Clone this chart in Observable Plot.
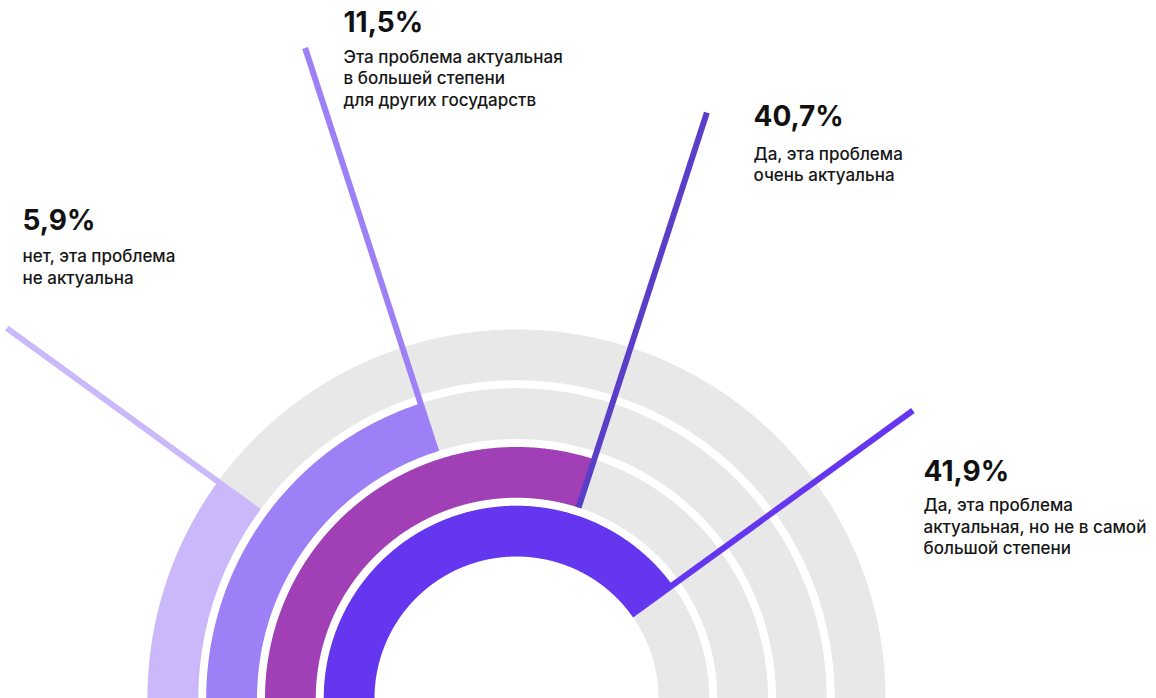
<!DOCTYPE html>
<html>
<head>
<meta charset="utf-8">
<script src="https://cdn.jsdelivr.net/npm/d3@7"></script>
<script src="https://cdn.jsdelivr.net/npm/@observablehq/plot@0.6"></script>
<style>
  html, body { margin: 0; padding: 0; background: #ffffff; }
  #chart { width: 1156px; height: 698px; overflow: hidden; }
</style>
</head>
<body>
<div id="chart"></div>
<script>
// ---- data ----
const categories = [
  "Да, эта проблема актуальная, но не в самой большой степени",
  "Да, эта проблема очень актуальна",
  "Эта проблема актуальная в большей степени для других государств",
  "нет, эта проблема не актуальна"
];
const values = [41.9, 40.7, 11.5, 5.9];
const labelLines = [
  ["Да, эта проблема", "актуальная, но не в самой", "большой степени"],
  ["Да, эта проблема", "очень актуальна"],
  ["Эта проблема актуальная", "в большей степени", "для других государств"],
  ["нет, эта проблема", "не актуальна"]
];

// ---- styles / layout (not data) ----
const barColors = ["#6536f0", "#a03fb6", "#9d80f6", "#cab8fa"];
const leaderColors = ["#6536f0", "#5b3ec8", "#9d80f6", "#cab8fa"];
const trackColor = "#e8e8e8";
const leaderRadius = [490, 616, 684, 630];
// label offsets from the leader end, in pixels (dx right, dy down)
const labelDx = [10.6, 46.6, 38.4, 15.7];
const numberDy = [70.5, 13.8, -15.8, -97.7];
const textDy = [144, 68.5, 58, -44.2];

const rows = categories.map((c, i) => ({category: c, value: values[i], i}));
const ascending = d3.sort(rows, d => d.value).map(d => d.category);

// angular position: ordinal (ranked) sweep in degrees, measured from the left
const angle = Plot.scale({x: {type: "point", domain: ascending, range: [0, 180], padding: 1}});
// radial bands: innermost = largest value
const radius = Plot.scale({x: {type: "band", domain: ascending.slice().reverse(), range: [142, 369], paddingInner: 8 / 58.75, paddingOuter: 0}});
const bw = radius.bandwidth;

function polar(r, a) {
  const t = a * Math.PI / 180;
  return [-r * Math.cos(t), r * Math.sin(t)];
}
function arcPoints(r0, r1, a0, a1, key) {
  const n = Math.max(2, Math.ceil((a1 - a0) / 0.25));
  const pts = [];
  for (let k = 0; k <= n; k++) { const [x, y] = polar(r1, a0 + (a1 - a0) * k / n); pts.push({x, y, key}); }
  for (let k = n; k >= 0; k--) { const [x, y] = polar(r0, a0 + (a1 - a0) * k / n); pts.push({x, y, key}); }
  return pts;
}

const trackPts = rows.flatMap(d => {
  const r0 = radius.apply(d.category);
  return arcPoints(r0, r0 + bw, 0, 180, d.category);
});
const barPts = rows.flatMap(d => {
  const r0 = radius.apply(d.category);
  return arcPoints(r0, r0 + bw, 0, angle.apply(d.category), d.category);
});

const fmt = v => v.toFixed(1).replace(".", ",") + "%";

const leaderMarks = rows.map(d => {
  const a = angle.apply(d.category);
  const [x1, y1] = polar(radius.apply(d.category), a);
  const [x2, y2] = polar(leaderRadius[d.i], a);
  return Plot.link([d], {x1: () => x1, y1: () => y1, x2: () => x2, y2: () => y2,
    stroke: leaderColors[d.i], strokeWidth: 6, strokeLinecap: "butt"});
});

const labelMarks = rows.flatMap(d => {
  const a = angle.apply(d.category);
  const [ex, ey] = polar(leaderRadius[d.i], a);
  const tx = ex + labelDx[d.i];
  return [
    Plot.text([d], {x: () => tx, y: () => ey - numberDy[d.i], text: dd => fmt(dd.value),
      textAnchor: "start", lineAnchor: "bottom", fontSize: 28, fontWeight: 700, fill: "#111111"}),
    Plot.text([d], {x: () => tx, y: () => ey - textDy[d.i], text: () => labelLines[d.i].join("\n"),
      textAnchor: "start", lineAnchor: "bottom", lineHeight: 1.265, fontSize: 17, fontWeight: 500, fill: "#161616"})
  ];
});

const chart = Plot.plot({
  width: 1156,
  height: 698,
  margin: 0,
  x: {domain: [-516, 640], axis: null},
  y: {domain: [0, 698], axis: null},
  color: {domain: categories, range: barColors},
  style: {background: "#ffffff", fontFamily: "Inter, 'Noto Sans', sans-serif", overflow: "hidden"},
  marks: [
    Plot.line(trackPts, {x: "x", y: "y", z: "key", fill: trackColor, stroke: "none"}),
    Plot.line(barPts, {x: "x", y: "y", z: "key", fill: "key", stroke: "none"}),
    ...leaderMarks,
    ...labelMarks
  ]
});
document.getElementById("chart").appendChild(chart);
</script>
</body>
</html>
